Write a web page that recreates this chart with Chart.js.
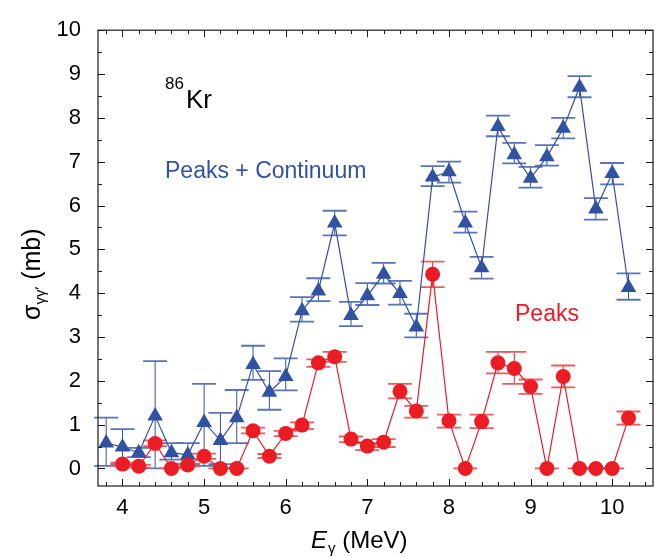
<!DOCTYPE html>
<html>
<head>
<meta charset="utf-8">
<script src="https://cdn.jsdelivr.net/npm/chart.js@4.4.1/dist/chart.umd.min.js"></script>
<style>
  html, body { margin: 0; padding: 0; background: #fff; }
  #wrap { width: 662px; height: 557px; position: relative; }
</style>
</head>
<body>
<div id="wrap"><canvas id="krChart"></canvas></div>
<script>
// 86Kr photon scattering cross sections
const blueE = [3.8, 4.0, 4.2, 4.4, 4.6, 4.8, 5.0, 5.2, 5.4, 5.6, 5.8, 6.0, 6.2, 6.4, 6.6, 6.8, 7.0,
  7.2, 7.4, 7.6, 7.8, 8.0, 8.2, 8.4, 8.6, 8.8, 9.0, 9.2, 9.4, 9.6, 9.8, 10.0, 10.2];
const blueSigma = [0.58, 0.49, 0.36, 1.2, 0.36, 0.31, 1.05, 0.64, 1.16, 2.37, 1.74, 2.1, 3.6, 4.05, 5.6, 3.49, 3.94,
  4.43, 3.99, 3.23, 6.65, 6.77, 5.6, 4.58, 7.8, 7.16, 6.62, 7.11, 7.76, 8.7, 5.92, 6.73, 4.13];
const blueLow = [0.06, 0.1, 0.26, 0.0, 0.2, 0.1, 0.06, 0.1, 0.58, 2.02, 1.34, 1.78, 3.35, 3.82, 5.32, 3.25, 3.73,
  4.22, 3.74, 2.99, 6.44, 6.52, 5.38, 4.33, 7.58, 6.96, 6.41, 6.91, 7.53, 8.47, 5.68, 6.48, 3.85];
const blueHigh = [1.16, 0.9, 0.47, 2.45, 0.58, 0.58, 1.93, 1.27, 1.79, 2.8, 2.22, 2.51, 3.91, 4.34, 5.88, 3.8, 4.23,
  4.69, 4.28, 3.53, 6.9, 7.0, 5.86, 4.83, 8.05, 7.43, 6.88, 7.38, 8.0, 8.95, 6.17, 6.97, 4.45];

const redE = [4.0, 4.2, 4.4, 4.6, 4.8, 5.0, 5.2, 5.4, 5.6, 5.8, 6.0, 6.2, 6.4, 6.6, 6.8, 7.0,
  7.2, 7.4, 7.6, 7.8, 8.0, 8.2, 8.4, 8.6, 8.8, 9.0, 9.2, 9.4, 9.6, 9.8, 10.0, 10.2];
const redSigma = [0.1, 0.05, 0.57, 0, 0.08, 0.28, 0, 0, 0.86, 0.28, 0.8, 0.99, 2.41, 2.55, 0.67, 0.51,
  0.6, 1.76, 1.31, 4.43, 1.09, 0, 1.07, 2.41, 2.28, 1.87, 0, 2.1, 0, 0, 0, 1.15];
const redLow = [0.07, 0.02, 0.51, 0, 0.05, 0.22, 0, 0, 0.8, 0.24, 0.74, 0.9, 2.32, 2.43, 0.6, 0.42,
  0.49, 1.6, 1.16, 4.14, 0.93, 0, 0.92, 2.17, 1.93, 1.7, 0, 1.85, 0, 0, 0, 1.0];
const redHigh = [0.13, 0.08, 0.64, 0, 0.11, 0.34, 0, 0, 0.93, 0.33, 0.86, 1.05, 2.49, 2.66, 0.73, 0.58,
  0.67, 1.93, 1.43, 4.72, 1.23, 0, 1.23, 2.66, 2.66, 2.03, 0, 2.35, 0, 0, 0, 1.3];

const xTicks = [4, 5, 6, 7, 8, 9, 10];
const yTicks = [0, 1, 2, 3, 4, 5, 6, 7, 8, 9, 10];

const BLUE = '#3152a3';
const RED = '#ec1c24';
const FONT = '"Liberation Sans", Arial, Helvetica, sans-serif';

const pts = (xs, ys) => xs.map((x, i) => ({ x: x, y: ys[i] }));

// error bars under the markers
const errorBars = {
  id: 'errorBars',
  beforeDatasetsDraw(chart) {
    const { ctx, scales: { x, y } } = chart;
    const sets = [
      { e: blueE, lo: blueLow, hi: blueHigh, line: BLUE, cap: '#5a74b8', capW: 1.8 },
      { e: redE, lo: redLow, hi: redHigh, line: RED, cap: '#f05a5f', capW: 1.8 }
    ];
    ctx.save();
    sets.forEach(s => {
      s.e.forEach((ev, i) => {
        const px = x.getPixelForValue(ev);
        const p1 = y.getPixelForValue(s.lo[i]);
        const p2 = y.getPixelForValue(s.hi[i]);
        ctx.strokeStyle = s.line;
        ctx.lineWidth = 1;
        ctx.beginPath();
        ctx.moveTo(px, p1); ctx.lineTo(px, p2);
        ctx.stroke();
        ctx.strokeStyle = s.cap;
        ctx.lineWidth = s.capW;
        ctx.beginPath();
        ctx.moveTo(px - 12, p1); ctx.lineTo(px + 12, p1);
        ctx.moveTo(px - 12, p2); ctx.lineTo(px + 12, p2);
        ctx.stroke();
      });
    });
    ctx.restore();
  }
};

// frame, inward ticks and the text labels
const frameAndText = {
  id: 'frameAndText',
  afterDraw(chart) {
    const { ctx, chartArea: a, scales: { x, y } } = chart;
    ctx.save();
    ctx.strokeStyle = '#1a1a1a';
    ctx.lineWidth = 1.2;
    ctx.strokeRect(a.left, a.top, a.right - a.left, a.bottom - a.top);
    ctx.lineWidth = 1;
    ctx.beginPath();
    for (let k = 19; k <= 52; k++) {
      const px = Math.round(x.getPixelForValue(k / 5)) + 0.5;
      const len = k % 5 === 0 ? 7 : 4;
      ctx.moveTo(px, a.bottom); ctx.lineTo(px, a.bottom - len);
      ctx.moveTo(px, a.top); ctx.lineTo(px, a.top + len);
    }
    for (let k = 0; k <= 20; k++) {
      const py = Math.round(y.getPixelForValue(k / 2)) + 0.5;
      const len = k % 2 === 0 ? 7 : 4;
      ctx.moveTo(a.left, py); ctx.lineTo(a.left + len, py);
      ctx.moveTo(a.right, py); ctx.lineTo(a.right - len, py);
    }
    ctx.stroke();

    ctx.textBaseline = 'alphabetic';
    ctx.textAlign = 'left';
    // 86Kr
    ctx.fillStyle = '#000';
    ctx.font = '17px ' + FONT;
    ctx.fillText('86', 165, 89);
    ctx.font = '26px ' + FONT;
    ctx.fillText('Kr', 186, 108);
    // series labels
    ctx.fillStyle = BLUE;
    ctx.font = '23px ' + FONT;
    ctx.fillText('Peaks + Continuum', 165, 178);
    ctx.fillStyle = RED;
    ctx.fillText('Peaks', 515, 321);

    // x title
    ctx.fillStyle = '#000';
    ctx.font = 'italic 24px ' + FONT;
    ctx.fillText('E', 311, 548);
    let cx = 311 + ctx.measureText('E').width;
    ctx.font = '15px ' + FONT;
    ctx.fillText('γ', cx + 1, 553);
    cx += ctx.measureText('γ').width + 1;
    ctx.font = '24px ' + FONT;
    ctx.fillText(' (MeV)', cx, 548);

    // y title (rotated)
    ctx.translate(40, 320);
    ctx.rotate(-Math.PI / 2);
    ctx.font = '25px ' + FONT;
    ctx.fillText('σ', 0, 0);
    let cy = ctx.measureText('σ').width;
    ctx.font = '15px ' + FONT;
    ctx.fillText('γγ′', cy, 5);
    cy += ctx.measureText('γγ′').width;
    ctx.font = '25px ' + FONT;
    ctx.fillText(' (mb)', cy, 0);
    ctx.restore();
  }
};

new Chart(document.getElementById('krChart'), {
  type: 'line',
  data: {
    datasets: [
      {
        label: 'Peaks',
        data: pts(redE, redSigma),
        borderColor: RED,
        backgroundColor: RED,
        borderWidth: 1.2,
        pointStyle: 'circle',
        pointRadius: 7.5,
        pointBorderWidth: 0,
        pointBackgroundColor: RED,
        tension: 0
      },
      {
        label: 'Peaks + Continuum',
        data: pts(blueE, blueSigma),
        borderColor: BLUE,
        backgroundColor: BLUE,
        borderWidth: 1.2,
        pointStyle: 'triangle',
        pointRadius: 9,
        pointBorderWidth: 0,
        pointBackgroundColor: BLUE,
        tension: 0
      }
    ]
  },
  options: {
    responsive: true,
    maintainAspectRatio: false,
    animation: false,
    layout: { padding: { top: 21, right: 7, left: 0, bottom: 0 } },
    plugins: { legend: { display: false }, tooltip: { enabled: false } },
    scales: {
      x: {
        type: 'linear',
        min: 3.7,
        max: 10.5,
        grid: { display: false, drawTicks: false },
        border: { display: false },
        ticks: { font: { size: 22, family: FONT }, color: '#000', padding: 9, maxRotation: 0 },
        afterBuildTicks: s => { s.ticks = xTicks.map(v => ({ value: v })); },
        afterFit: s => { s.height = 71; }
      },
      y: {
        min: -0.4,
        max: 10,
        grid: { display: false, drawTicks: false },
        border: { display: false },
        ticks: { font: { size: 22, family: FONT }, color: '#000', padding: 17 },
        afterBuildTicks: s => { s.ticks = yTicks.map(v => ({ value: v })); },
        afterFit: s => { s.width = 98; }
      }
    }
  },
  plugins: [errorBars, frameAndText]
});
</script>
</body>
</html>
